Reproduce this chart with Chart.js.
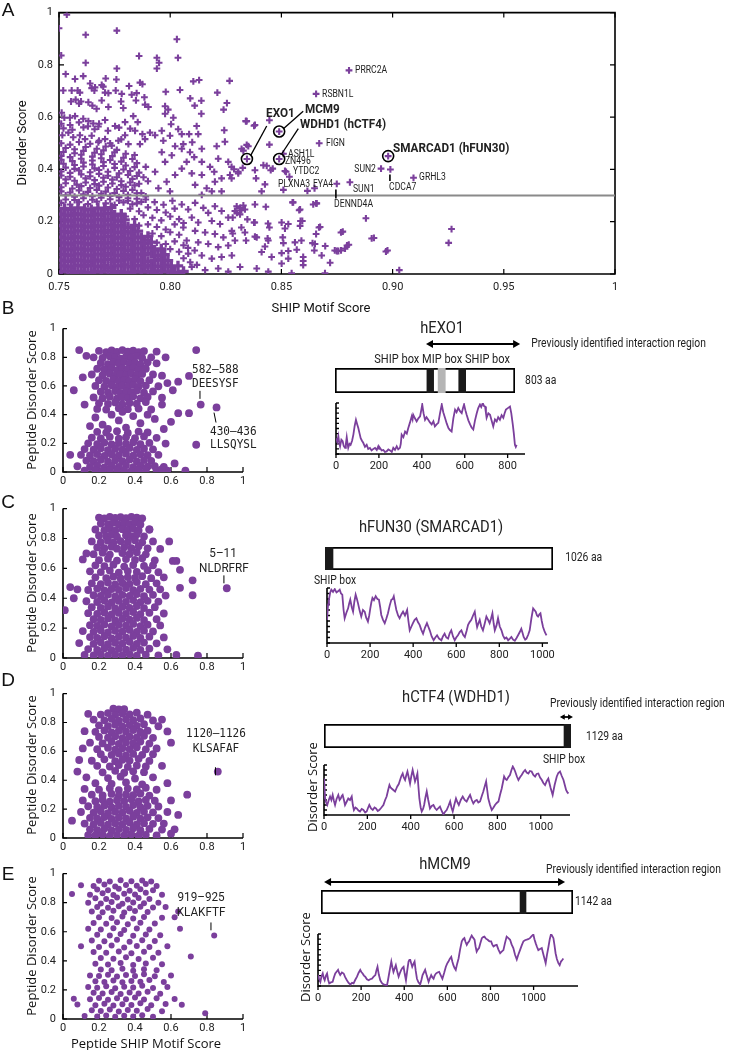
<!DOCTYPE html>
<html>
<head>
<meta charset="utf-8">
<script src="https://cdn.jsdelivr.net/npm/chart.js@4.4.0/dist/chart.umd.min.js"></script>
<style>
body { margin:0; background:#fff; }
#fig { position:relative; width:735px; height:1050px; overflow:hidden; background:#fff;
  font-family:Roboto,'Open Sans',sans-serif; color:#111; }
#fig canvas { position:absolute; }
.t { position:absolute; white-space:nowrap; line-height:1; }
.c { transform:translate(-50%,-50%); }
.rot { transform:translate(-50%,-50%) rotate(-90deg); }
.letter { font-family:'Liberation Sans',Arial,sans-serif; font-size:19px; }
.ylab { font-family:'Open Sans',sans-serif; font-size:13px; }
</style>
</head>
<body>
<div id="fig">
  <canvas id="scanA" width="640" height="320" style="left:0;top:0"></canvas>

  <canvas id="pepB" width="260" height="175" style="left:0;top:315px"></canvas>
  <canvas id="barB" width="435" height="90" style="left:300px;top:315px"></canvas>
  <canvas id="profB" width="240" height="85" style="left:300px;top:390px"></canvas>

  <canvas id="pepC" width="260" height="180" style="left:0;top:495px"></canvas>
  <canvas id="barC" width="435" height="80" style="left:300px;top:510px"></canvas>
  <canvas id="profC" width="275" height="90" style="left:290px;top:575px"></canvas>

  <canvas id="pepD" width="260" height="175" style="left:0;top:680px"></canvas>
  <canvas id="barD" width="435" height="80" style="left:300px;top:690px"></canvas>
  <canvas id="profD" width="290" height="90" style="left:290px;top:750px"></canvas>

  <canvas id="pepE" width="260" height="175" style="left:0;top:860px"></canvas>
  <canvas id="barE" width="435" height="65" style="left:300px;top:855px"></canvas>
  <canvas id="profE" width="300" height="90" style="left:285px;top:920px"></canvas>

  <div class="t c letter" style="left:8px;top:9px">A</div>
  <div class="t c letter" style="left:8px;top:307px">B</div>
  <div class="t c letter" style="left:8px;top:501px">C</div>
  <div class="t c letter" style="left:8px;top:679px">D</div>
  <div class="t c letter" style="left:8px;top:873px">E</div>

  <div class="t c" style="left:321px;top:307px;font-size:13px">SHIP Motif Score</div>
  <div class="t rot" style="left:21px;top:143px;font-size:13px">Disorder Score</div>

  <div class="t rot ylab" style="left:31px;top:400px">Peptide Disorder Score</div>
  <div class="t rot ylab" style="left:31px;top:583px">Peptide Disorder Score</div>
  <div class="t rot ylab" style="left:31px;top:765px">Peptide Disorder Score</div>
  <div class="t rot ylab" style="left:31px;top:946px">Peptide Disorder Score</div>
  <div class="t c ylab" style="left:146px;top:1043px">Peptide SHIP Motif Score</div>

  <div class="t rot ylab" style="left:312px;top:787px">Disorder Score</div>
  <div class="t rot ylab" style="left:305px;top:957px">Disorder Score</div>
</div>

<script>
var purple = '#7b3f9c';
var sans = "Roboto,'Open Sans',sans-serif";
var mono = "'DejaVu Sans Mono',monospace";

// ---- panel A : SHIP motif score vs disorder score (one cross per protein) ----
var coreA = [
  [.751,.008],[.754,.012],[.757,.006],[.760,.010],[.763,.005],[.766,.011],[.769,.007],[.772,.012],[.775,.006],[.778,.009],[.781,.005],[.784,.011],[.787,.007],[.790,.010],[.793,.006],[.796,.012],[.799,.008],[.802,.005],[.806,.010],
  [.7525,.031],[.7555,.027],[.7585,.033],[.7615,.029],[.7645,.034],[.7675,.028],[.7705,.032],[.7735,.026],[.7765,.031],[.7795,.035],[.7825,.028],[.7855,.032],[.7885,.027],[.7915,.033],[.7945,.029],[.7975,.034],[.8005,.028],[.8035,.031],
  [.751,.053],[.754,.049],[.757,.055],[.760,.051],[.763,.048],[.766,.054],[.769,.050],[.772,.056],[.775,.049],[.778,.053],[.781,.057],[.784,.050],[.787,.054],[.790,.048],[.793,.052],[.796,.056],[.799,.051],
  [.7525,.075],[.7555,.071],[.7585,.077],[.7615,.073],[.7645,.070],[.7675,.076],[.7705,.072],[.7735,.078],[.7765,.071],[.7795,.075],[.7825,.069],[.7855,.076],[.7885,.073],[.7915,.078],[.7945,.070],[.7975,.074],
  [.751,.097],[.754,.093],[.757,.099],[.760,.095],[.763,.092],[.766,.098],[.769,.094],[.772,.100],[.775,.093],[.778,.097],[.781,.091],[.784,.098],[.787,.095],[.790,.100],[.793,.092],[.796,.096],
  [.7525,.119],[.7555,.115],[.7585,.121],[.7615,.117],[.7645,.114],[.7675,.120],[.7705,.116],[.7735,.122],[.7765,.115],[.7795,.119],[.7825,.113],[.7855,.120],[.7885,.117],[.7915,.122],
  [.751,.141],[.754,.137],[.757,.143],[.760,.139],[.763,.136],[.766,.142],[.769,.138],[.772,.144],[.775,.137],[.778,.141],[.781,.135],[.784,.142],[.787,.139],[.790,.144],
  [.7525,.163],[.7555,.159],[.7585,.165],[.7615,.161],[.7645,.158],[.7675,.164],[.7705,.160],[.7735,.166],[.7765,.159],[.7795,.163],[.7825,.157],[.7855,.164],
  [.751,.185],[.754,.181],[.757,.187],[.760,.183],[.763,.180],[.766,.186],[.769,.182],[.772,.188],[.775,.181],[.778,.185],[.781,.179],[.784,.186],
  [.7525,.207],[.7555,.203],[.7585,.209],[.7615,.205],[.7645,.202],[.7675,.208],[.7705,.204],[.7735,.210],[.7765,.203],[.7795,.207],
  [.751,.229],[.754,.225],[.757,.231],[.760,.227],[.763,.224],[.766,.230],[.769,.226],[.772,.232],[.775,.225],[.778,.229],
  [.7525,.251],[.7555,.247],[.7585,.253],[.7615,.249],[.7645,.246],[.7675,.252],[.7705,.248],[.7735,.254]
];
var lowerA = [
  [.781,.28],[.785,.27],[.789,.285],[.793,.275],[.797,.265],[.801,.28],
  [.782,.25],[.786,.24],[.790,.255],[.794,.245],[.798,.235],[.802,.25],
  [.780,.22],[.784,.21],[.788,.225],[.792,.215],[.796,.205],[.800,.22],[.804,.21],
  [.786,.185],[.790,.19],[.794,.18],[.798,.17],[.802,.19],[.806,.195],
  [.792,.155],[.796,.145],[.800,.16],[.804,.15],[.790,.13],[.794,.12],[.798,.115],[.802,.125],[.806,.11],
  [.800,.095],[.804,.085],[.808,.10],[.811,.09],[.806,.06],[.809,.045],[.812,.035],
  [.8052,.266],[.8112,.272],[.8081,.247],[.8149,.253],[.8171,.234],[.8201,.259],[.8231,.241],[.8261,.216],[.8097,.216],[.8126,.197],
  [.8187,.203],[.8224,.191],[.8059,.178],[.8112,.165],[.8157,.159],[.8201,.153],[.8239,.140],[.8277,.165],[.8074,.128],[.8126,.121],
  [.8171,.115],[.8216,.103],[.8261,.109],[.8291,.128],[.8081,.078],[.8142,.071],[.8187,.059],[.8231,.065],[.8277,.071],[.8097,.027],
  [.8157,.015],[.8216,.021],[.8261,.009],[.8314,.027],[.8052,.003]
];
var rightA = [
  [.8381,.266],[.843,.257],[.855,.274],[.858,.244],[.8643,.266],[.8659,.27],[.888,.213],[.832,.244],[.8336,.247],[.830,.234],
  [.838,.197],[.844,.193],[.8594,.203],[.8674,.180],[.832,.178],[.8347,.209],[.8906,.136],[.897,.086],[.903,.015],[.8516,.174],
  [.8389,.140],[.8441,.128],[.8506,.140],[.8561,.121],[.859,.128],[.8651,.115],[.8648,.090],[.874,.090],[.8768,.090],[.8795,.109],
  [.8411,.084],[.8456,.065],[.8501,.080],[.8598,.065],[.8598,.050],[.8598,.034],[.8531,.059],[.8681,.071],[.8501,.040],[.8389,.021],
  [.8441,.009],[.8696,.003],[.8546,.003],
  [.9265,.172],[.9252,.119],[.8977,.090],[.8916,.138],[.8776,.162],[.8803,.112],[.8756,.088],[.8669,.178],[.8697,.107],
  [.8299,.259],[.8314,.253],[.8329,.262],[.8291,.241],[.8314,.228],[.8281,.216],[.8553,.274],[.8584,.247],[.8656,.270],
  [.8377,.197],[.8446,.178],[.8501,.197],[.8531,.191],[.8586,.203],[.8584,.184],[.8768,.159],
  [.8281,.155],[.8336,.159],[.8341,.128],[.8381,.143],[.8438,.136],[.8426,.105],[.8509,.118],[.8531,.088],[.8569,.093],[.8640,.118],
  [.8656,.153],[.8719,.043],[.8749,.088],[.8786,.097]
];
var middleA = [
  [.751,.272],[.755,.266],[.759,.275],[.763,.268],[.767,.277],[.771,.27],[.775,.264],[.779,.274],[.783,.267],[.787,.276],
  [.753,.301],[.757,.296],[.761,.305],[.765,.298],[.769,.307],[.773,.299],[.777,.294],[.781,.303],[.785,.309],[.789,.297],
  [.751,.332],[.756,.327],[.760,.336],[.764,.329],[.768,.338],[.772,.331],[.776,.325],[.780,.334],[.784,.339],
  [.753,.362],[.757,.357],[.762,.366],[.766,.359],[.770,.368],[.774,.361],[.778,.355],[.783,.364],[.788,.37],
  [.751,.392],[.755,.387],[.759,.396],[.764,.389],[.768,.398],[.772,.391],[.777,.385],[.782,.394],[.786,.388],
  [.752,.422],[.757,.417],[.761,.426],[.765,.419],[.770,.428],[.775,.421],[.780,.415],[.785,.424],
  [.751,.452],[.755,.447],[.760,.456],[.765,.449],[.769,.458],[.774,.451],[.779,.445],[.784,.455],
  [.753,.482],[.757,.477],[.762,.486],[.767,.479],[.771,.488],[.776,.475],
  [.752,.557],[.756,.552],[.761,.561],[.766,.554],[.772,.548],[.777,.56],[.782,.556],
  [.753,.285],[.757,.283],[.761,.29],[.765,.284],[.769,.292],[.773,.286],[.777,.281],[.781,.29],[.785,.288],
  [.751,.316],[.755,.312],[.759,.32],[.763,.314],[.767,.322],[.771,.315],[.775,.31],[.779,.318],[.783,.322],[.787,.31],
  [.753,.347],[.758,.342],[.762,.35],[.766,.344],[.770,.353],[.774,.346],[.778,.34],[.782,.35],[.786,.345],[.790,.355],
  [.751,.377],[.755,.372],[.760,.381],[.764,.374],[.768,.383],[.772,.376],[.776,.37],[.781,.379],[.785,.375],
  [.753,.407],[.757,.402],[.761,.411],[.766,.404],[.770,.413],[.775,.406],[.779,.40],[.784,.409],[.789,.41],
  [.751,.437],[.756,.432],[.760,.441],[.765,.434],[.769,.443],[.773,.436],[.778,.43],[.783,.44],
  [.752,.467],[.757,.462],[.761,.471],[.766,.464],[.770,.473],[.775,.466],[.780,.46],
  [.751,.50],[.755,.495],[.759,.505],[.764,.498],[.768,.51],[.773,.50],[.778,.515],
  [.751,.575],[.755,.57],[.759,.58],[.763,.565],[.768,.575],
  [.8052,.479],[.8089,.466],[.8108,.447],[.8142,.429],[.8074,.429],[.8052,.403],[.8097,.385],[.8142,.379],[.8179,.410],[.8198,.391],
  [.8201,.353],[.8231,.366],[.8112,.341],[.8164,.328],[.8187,.316],[.8231,.316],[.8142,.303],[.8261,.429],[.8306,.391],[.8269,.379],
  [.8216,.441],[.8007,.454],[.7977,.429],[.8022,.379],[.7984,.353],[.7947,.328],[.7999,.316],[.7932,.391],[.7962,.466],
  [.8341,.585],[.8381,.570],[.8446,.588],[.8329,.472],[.8351,.489],[.8446,.495],[.8276,.410],[.8287,.401],[.8306,.385],[.8326,.406],
  [.8276,.366],[.8381,.397],[.8419,.416],[.8434,.414],[.8452,.397],[.8461,.403],[.8386,.366],[.8426,.343],[.8411,.316],[.8516,.394],
  [.8536,.372],[.8509,.322],[.8617,.318],[.8649,.328],
  [.8804,.779],[.8656,.689],[.867,.50],[.8509,.46],[.8521,.391],[.8749,.345],[.8808,.351],[.8948,.403],[.899,.40],[.9094,.368],
  [.8345,.44],[.849,.545],[.849,.44],[.898,.451]
];
var upperA = [
  [.7535,.992],[.750,.94],[.762,.915],[.776,.931],[.803,.898],[.751,.836],[.762,.808],[.786,.834],[.794,.827],[.795,.808],
  [.794,.786],[.8035,.827],[.776,.786],[.753,.765],
  [.7572,.746],[.7609,.757],[.771,.748],[.7758,.744],[.7815,.719],[.7875,.726],[.798,.697],[.8044,.704],[.8104,.737],[.813,.742],
  [.8267,.739],[.8212,.694],[.809,.672],[.814,.663],[.8255,.654],[.811,.644],[.824,.629],[.814,.613],[.834,.585],[.8377,.567],
  [.7557,.702],[.7584,.702],[.7594,.694],[.7647,.711],[.7659,.702],[.7699,.717],[.7707,.694],[.7722,.692],[.7755,.702],[.7782,.689],
  [.7827,.686],[.7849,.692],[.7884,.676],[.7846,.664],
  [.7554,.660],[.7575,.667],[.7599,.660],[.759,.652],[.7632,.657],[.765,.644],[.7669,.632],[.7692,.664],[.7722,.639],[.7779,.660],
  [.7789,.635],[.7834,.604],[.7854,.581],[.7887,.648],[.7902,.639],[.7977,.642],[.7991,.629],[.8014,.598],[.7977,.613],[.7512,.617],
  [.7524,.598],[.7549,.598],[.7572,.604],[.7609,.594],[.7632,.585],[.7654,.576],[.7677,.564],[.7707,.589],[.7752,.566],[.7797,.581],
  [.7842,.548],[.7875,.535],[.7909,.541],[.7962,.548],[.8004,.573],[.8036,.554],[.8052,.535],[.8085,.535],[.8119,.566],[.8126,.535],
  [.8243,.550],[.8246,.506],[.8344,.585],
  [.7515,.531],[.7542,.541],[.7564,.523],[.7594,.531],[.7617,.516],[.7647,.529],[.7677,.504],[.7707,.516],[.7737,.491],[.7767,.510],
  [.7797,.531],[.7812,.497],[.7864,.497],[.7887,.516],[.7932,.531],[.7969,.510],[.7999,.529],[.8022,.489],[.8059,.497],[.8099,.504],
  [.8142,.479],[.8209,.489],[.8321,.479],[.8344,.494],
  [.7519,.702],[.764,.729],[.7662,.714],[.7864,.732],[.7692,.723]
];
// circled proteins: EXO1, MCM9, WDHD1, SMARCAD1
var circledA = [[.8345,.44],[.849,.545],[.849,.44],[.898,.451]];
var thresholdA = 0.3;
var motifTicksA = [0.75, 0.8, 0.85, 0.9, 0.95, 1];

// ---- panels B-E : peptides of one protein (motif score, disorder score) ----
var exo1Peptides = [
  [.20,.845],[.24,.835],[.27,.848],[.30,.838],[.33,.85],[.36,.84],[.39,.846],[.42,.836],[.45,.843],
  [.17,.80],[.22,.795],[.26,.808],[.29,.80],[.32,.79],[.35,.805],[.38,.798],[.41,.81],[.44,.795],[.49,.80],
  [.21,.76],[.25,.752],[.28,.765],[.31,.758],[.34,.768],[.37,.755],[.40,.762],[.43,.75],[.47,.765],[.52,.758],
  [.19,.72],[.23,.715],[.27,.725],[.30,.71],[.33,.722],[.36,.716],[.39,.728],[.42,.712],[.46,.72],
  [.16,.68],[.22,.675],[.26,.686],[.29,.672],[.32,.682],[.35,.676],[.38,.688],[.41,.674],[.44,.684],[.50,.68],[.55,.672],
  [.20,.64],[.24,.635],[.28,.645],[.31,.632],[.34,.642],[.37,.636],[.40,.648],[.43,.634],[.48,.64],
  [.18,.60],[.23,.595],[.27,.605],[.30,.592],[.33,.602],[.36,.596],[.39,.608],[.42,.594],[.46,.603],[.53,.598],
  [.21,.56],[.25,.555],[.29,.565],[.32,.552],[.35,.562],[.38,.556],[.41,.568],[.45,.554],[.50,.562],
  [.17,.52],[.22,.515],[.26,.525],[.30,.512],[.33,.522],[.36,.516],[.39,.528],[.43,.514],[.47,.523],[.55,.518],
  [.20,.48],[.25,.475],[.29,.485],[.33,.472],[.37,.482],[.41,.476],[.46,.488],
  [.19,.44],[.24,.435],[.31,.445],[.36,.438],[.42,.442],[.49,.436],
  [.09,.85],[.13,.81],[.06,.57],[.11,.66],[.58,.62],[.57,.80],[.52,.84],[.61,.57],[.64,.63],[.70,.67],
  [.74,.85],[.12,.47],[.55,.47],[.64,.41],[.70,.41],[.60,.35],[.765,.47],[.853,.45],
  [.18,.38],[.22,.33],[.27,.40],[.31,.36],[.35,.31],[.39,.39],[.43,.34],[.47,.40],[.51,.37],[.25,.30],[.15,.32],[.56,.30],[.33,.42],
  [.19,.28],[.24,.275],[.30,.285],[.36,.272],[.42,.282],[.47,.276],
  [.16,.24],[.21,.235],[.26,.245],[.31,.232],[.35,.242],[.40,.236],[.45,.248],[.52,.238],
  [.14,.20],[.19,.195],[.23,.205],[.27,.192],[.31,.202],[.35,.196],[.39,.208],[.43,.194],[.48,.203],[.57,.198],
  [.12,.16],[.17,.155],[.21,.165],[.25,.152],[.29,.162],[.33,.156],[.37,.168],[.41,.154],[.45,.163],[.50,.158],
  [.10,.12],[.15,.115],[.19,.125],[.23,.112],[.27,.122],[.31,.116],[.35,.128],[.39,.114],[.43,.123],[.47,.118],[.53,.12],
  [.13,.08],[.17,.075],[.21,.085],[.25,.072],[.29,.082],[.33,.076],[.37,.088],[.41,.074],[.45,.083],[.49,.078],
  [.08,.04],[.15,.035],[.19,.045],[.23,.032],[.27,.042],[.31,.036],[.35,.048],[.39,.034],[.43,.043],[.47,.038],[.51,.04],[.56,.035],
  [.12,.01],[.18,.012],[.22,.008],[.26,.014],[.30,.01],[.34,.012],[.38,.008],[.42,.013],[.46,.01],[.52,.012],[.58,.01],
  [.04,.12],[.74,.19],[.55,.02],[.62,.06],[.68,.01]
];
var fun30Peptides = [
  [.20,.94],[.23,.935],[.26,.945],[.29,.938],[.32,.942],[.35,.936],[.38,.945],[.41,.94],[.44,.935],
  [.21,.90],[.25,.895],[.28,.905],[.31,.892],[.34,.902],[.37,.896],[.40,.908],[.43,.894],
  [.18,.86],[.23,.855],[.26,.865],[.29,.852],[.33,.862],[.36,.856],[.39,.868],[.42,.854],[.48,.86],
  [.20,.82],[.24,.815],[.27,.825],[.30,.812],[.35,.822],[.38,.816],[.41,.828],[.45,.814],
  [.16,.78],[.21,.775],[.25,.785],[.28,.772],[.32,.782],[.36,.776],[.40,.788],[.44,.774],[.50,.78],[.59,.78],
  [.19,.74],[.23,.735],[.27,.745],[.30,.732],[.34,.742],[.38,.736],[.42,.748],[.47,.734],[.54,.73],
  [.13,.70],[.17,.695],[.22,.705],[.26,.692],[.33,.702],[.37,.696],[.41,.708],[.46,.694],
  [.11,.66],[.20,.655],[.25,.665],[.30,.652],[.35,.662],[.40,.656],[.44,.668],[.51,.654],[.61,.65],
  [.18,.62],[.23,.615],[.28,.625],[.34,.612],[.39,.622],[.45,.616],[.50,.62],
  [.15,.58],[.21,.575],[.26,.585],[.31,.572],[.36,.582],[.41,.576],[.47,.588],[.53,.574],
  [.18,.54],[.24,.535],[.28,.545],[.32,.532],[.36,.542],[.40,.536],[.44,.548],[.49,.534],[.56,.54],
  [.16,.50],[.21,.495],[.25,.505],[.29,.492],[.33,.502],[.37,.496],[.41,.508],[.46,.494],[.52,.50],
  [.08,.46],[.14,.455],[.19,.465],[.23,.452],[.27,.462],[.31,.456],[.35,.468],[.39,.454],[.43,.463],[.48,.458],[.54,.46],[.65,.47],
  [.17,.42],[.21,.415],[.25,.425],[.29,.412],[.33,.422],[.37,.416],[.41,.428],[.45,.414],[.50,.423],[.57,.418],[.72,.42],
  [.13,.38],[.19,.375],[.23,.385],[.27,.372],[.31,.382],[.35,.376],[.39,.388],[.43,.374],[.47,.383],[.53,.378],
  [.16,.34],[.21,.335],[.25,.345],[.29,.332],[.33,.342],[.37,.336],[.41,.348],[.45,.334],[.51,.34],
  [.01,.32],[.14,.30],[.19,.295],[.23,.305],[.27,.292],[.31,.302],[.35,.296],[.39,.308],[.43,.294],[.48,.303],[.56,.298],
  [.17,.26],[.21,.255],[.25,.265],[.29,.252],[.33,.262],[.37,.256],[.41,.268],[.45,.254],[.52,.26],
  [.15,.22],[.19,.215],[.23,.225],[.27,.212],[.31,.222],[.35,.216],[.39,.228],[.43,.214],[.47,.223],[.54,.218],
  [.11,.18],[.17,.175],[.21,.185],[.25,.172],[.29,.182],[.33,.176],[.37,.188],[.41,.174],[.45,.183],[.50,.178],
  [.15,.14],[.19,.135],[.23,.145],[.27,.132],[.31,.142],[.35,.136],[.39,.148],[.43,.134],[.48,.143],[.56,.138],
  [.09,.10],[.17,.095],[.21,.105],[.25,.092],[.29,.102],[.33,.096],[.37,.108],[.41,.094],[.45,.103],[.52,.098],
  [.14,.06],[.19,.055],[.23,.065],[.27,.052],[.31,.062],[.35,.056],[.39,.068],[.43,.054],[.48,.063],[.58,.058],
  [.12,.02],[.17,.018],[.21,.024],[.25,.015],[.29,.022],[.33,.018],[.37,.025],[.41,.016],[.46,.022],[.53,.018],[.63,.02],[.75,.015],
  [.91,.467],[.72,.52],[.04,.475],[.06,.40],[.48,.86],[.63,.65],[.65,.59]
];
var ctf4Peptides = [
  [.28,.895],[.31,.89],[.34,.893],
  [.14,.86],[.21,.855],[.25,.865],[.29,.852],[.33,.862],[.37,.856],[.41,.868],[.47,.854],
  [.17,.82],[.23,.815],[.27,.825],[.31,.812],[.35,.822],[.39,.816],[.43,.828],[.50,.814],[.55,.82],
  [.20,.78],[.25,.775],[.29,.785],[.33,.772],[.37,.782],[.41,.776],[.45,.788],[.53,.774],
  [.12,.74],[.18,.735],[.23,.745],[.27,.732],[.31,.742],[.35,.736],[.39,.748],[.43,.734],[.47,.743],[.58,.738],
  [.20,.70],[.25,.695],[.29,.705],[.33,.692],[.37,.702],[.41,.696],[.45,.708],[.50,.694],
  [.15,.66],[.22,.655],[.27,.665],[.31,.652],[.35,.662],[.39,.656],[.43,.668],[.48,.654],[.60,.66],
  [.11,.62],[.19,.615],[.25,.625],[.29,.612],[.33,.622],[.37,.616],[.41,.628],[.46,.614],[.52,.62],
  [.21,.58],[.27,.575],[.31,.585],[.35,.572],[.39,.582],[.44,.576],[.50,.58],
  [.09,.54],[.16,.535],[.23,.545],[.29,.532],[.33,.542],[.37,.536],[.42,.548],[.48,.534],
  [.19,.50],[.26,.495],[.31,.505],[.36,.492],[.41,.502],[.46,.496],[.55,.50],
  [.08,.46],[.22,.455],[.29,.465],[.34,.452],[.39,.462],[.45,.456],
  [.13,.42],[.25,.415],[.32,.425],[.40,.412],[.50,.42],
  [.18,.38],[.27,.375],[.35,.385],[.44,.372],[.58,.38],
  [.12,.34],[.20,.335],[.26,.345],[.31,.332],[.36,.342],[.41,.336],[.46,.348],[.52,.334],
  [.16,.30],[.22,.295],[.27,.305],[.31,.292],[.35,.302],[.39,.296],[.43,.308],[.48,.294],[.69,.30],
  [.11,.26],[.18,.255],[.22,.265],[.26,.252],[.30,.262],[.34,.256],[.38,.268],[.42,.254],[.46,.263],[.51,.258],[.60,.26],
  [.14,.22],[.19,.215],[.23,.225],[.27,.212],[.31,.222],[.35,.216],[.39,.228],[.43,.214],[.47,.223],[.53,.218],
  [.10,.18],[.17,.175],[.21,.185],[.25,.172],[.29,.182],[.33,.176],[.37,.188],[.41,.174],[.45,.183],[.50,.178],[.58,.18],[.64,.16],
  [.15,.14],[.19,.135],[.23,.145],[.27,.132],[.31,.142],[.35,.136],[.39,.148],[.43,.134],[.47,.143],[.53,.138],
  [.12,.10],[.17,.095],[.21,.105],[.25,.092],[.29,.102],[.33,.096],[.37,.108],[.41,.094],[.45,.103],[.50,.098],[.56,.10],
  [.15,.06],[.19,.055],[.23,.065],[.27,.052],[.31,.062],[.35,.056],[.39,.068],[.43,.054],[.48,.063],[.55,.058],[.62,.06],
  [.14,.02],[.18,.018],[.22,.024],[.26,.015],[.30,.022],[.34,.018],[.38,.025],[.42,.016],[.46,.022],[.52,.018],[.60,.03],
  [.86,.46],[.05,.12]
];
var mcm9Peptides = [
  [.20,.95],[.26,.945],[.32,.955],[.38,.948],[.44,.952],[.49,.946],
  [.10,.92],[.17,.915],[.23,.925],[.29,.912],[.35,.922],[.41,.916],[.46,.928],[.52,.914],
  [.19,.89],[.25,.885],[.31,.895],[.37,.882],[.43,.892],[.50,.886],
  [.05,.86],[.15,.855],[.22,.865],[.28,.852],[.34,.862],[.40,.856],[.46,.868],[.55,.854],
  [.18,.83],[.24,.825],[.30,.835],[.36,.822],[.42,.832],[.48,.826],
  [.14,.80],[.21,.795],[.27,.805],[.33,.792],[.39,.802],[.45,.796],[.53,.80],
  [.19,.77],[.25,.765],[.31,.775],[.37,.762],[.43,.772],[.50,.766],[.57,.77],
  [.16,.74],[.22,.735],[.28,.745],[.34,.732],[.40,.742],[.47,.736],[.64,.74],
  [.20,.70],[.27,.695],[.33,.705],[.39,.692],[.45,.702],[.55,.696],[.62,.70],
  [.17,.66],[.24,.655],[.30,.665],[.36,.652],[.43,.662],[.51,.656],
  [.14,.62],[.21,.615],[.28,.625],[.34,.612],[.41,.622],[.48,.616],[.65,.62],
  [.19,.58],[.26,.575],[.32,.585],[.39,.572],[.46,.582],[.54,.576],
  [.16,.54],[.23,.535],[.30,.545],[.37,.532],[.44,.542],[.51,.536],
  [.10,.50],[.20,.495],[.27,.505],[.34,.492],[.41,.502],[.48,.496],[.58,.50],
  [.17,.46],[.24,.455],[.31,.465],[.38,.452],[.45,.462],[.53,.456],
  [.21,.42],[.28,.415],[.35,.425],[.42,.412],[.50,.422],[.71,.43],
  [.18,.38],[.25,.375],[.32,.385],[.39,.372],[.46,.382],[.55,.376],
  [.21,.34],[.27,.335],[.33,.345],[.39,.332],[.45,.342],[.52,.336],
  [.15,.30],[.20,.295],[.25,.305],[.30,.292],[.35,.302],[.40,.296],[.45,.308],[.51,.294],[.60,.30],
  [.18,.26],[.23,.255],[.28,.265],[.33,.252],[.38,.262],[.43,.256],[.48,.268],[.56,.254],
  [.14,.22],[.19,.215],[.24,.225],[.29,.212],[.34,.222],[.39,.216],[.44,.228],[.50,.214],[.58,.22],
  [.17,.18],[.22,.175],[.27,.185],[.32,.172],[.37,.182],[.42,.176],[.47,.188],[.54,.174],
  [.06,.14],[.15,.135],[.20,.145],[.25,.132],[.30,.142],[.35,.136],[.40,.148],[.45,.134],[.52,.143],[.62,.138],
  [.08,.10],[.18,.095],[.23,.105],[.28,.092],[.33,.102],[.38,.096],[.43,.108],[.49,.094],[.57,.103],[.66,.098],
  [.16,.06],[.21,.055],[.26,.065],[.31,.052],[.36,.062],[.41,.056],[.47,.068],[.55,.054],
  [.12,.02],[.19,.018],[.24,.024],[.29,.015],[.34,.022],[.39,.018],[.44,.025],[.50,.016],[.79,.04],
  [.84,.575]
];

// ---- disorder profiles along each protein: [residue, disorder score] ----
var exo1Profile = [
  [0,.31],[6,.24],[11,.35],[15,.22],[19,.15],[25,.28],[31,.25],[36,.16],[42,.12],[46,.2],[50,.33],[54,.2],[57,.12],[63,.2],[68,.18],
  [75,.26],[81,.38],[87,.55],[93,.67],[99,.58],[104,.51],[110,.4],[115,.31],[121,.26],[127,.22],[135,.14],[143,.18],[150,.1],[158,.12],
  [166,.07],[174,.1],[182,.12],[190,.08],[197,.15],[201,.1],[205,.12],[213,.07],[221,.08],[228,.04],[236,.05],[244,.09],[252,.07],
  [260,.04],[267,.12],[275,.08],[283,.15],[290,.09],[298,.12],[302,.2],[306,.38],[314,.33],[322,.44],[330,.4],[337,.51],[345,.62],
  [353,.74],[357,.68],[360,.77],[368,.7],[376,.64],[384,.7],[392,.74],[397,.85],[402,.97],[408,.8],[415,.67],[422,.72],[430,.67],
  [438,.62],[446,.58],[454,.64],[461,.54],[469,.58],[477,.61],[485,.8],[493,.97],[500,.82],[508,.71],[516,.6],[524,.51],[531,.47],
  [539,.44],[547,.7],[555,.87],[562,.82],[570,.90],[578,.84],[586,.80],[592,.9],[597,.97],[603,.86],[609,.77],[617,.66],[625,.58],
  [632,.52],[640,.48],[648,.66],[656,.80],[663,.9],[671,.97],[677,.92],[684,1.0],[690,.94],[695,.93],[699,.8],[702,.71],[710,.8],
  [718,.77],[725,.66],[733,.54],[741,.68],[749,.64],[756,.72],[764,.67],[772,.76],[780,.71],[786,.8],[792,.87],[801,.9],[811,.93],
  [817,.8],[824,.58],[829,.4],[834,.18],[838,.14],[842,.18]
];
var fun30Profile = [
  [0,.42],[5,.7],[9,.79],[15,.92],[20,.97],[28,.93],[36,.98],[44,.92],[51,.94],[59,.97],[65,.9],[71,.88],[77,.6],[82,.45],[90,.55],
  [98,.63],[103,.72],[108,.79],[115,.65],[121,.57],[127,.75],[133,.88],[139,.8],[144,.72],[152,.58],[159,.48],[167,.6],[175,.57],
  [182,.46],[190,.39],[196,.5],[201,.63],[206,.74],[211,.82],[218,.78],[226,.85],[234,.8],[241,.79],[247,.65],[252,.51],[260,.42],
  [268,.36],[276,.45],[283,.54],[291,.68],[299,.79],[305,.8],[310,.85],[316,.72],[322,.60],[330,.5],[337,.45],[345,.52],[353,.57],
  [362,.5],[372,.60],[378,.4],[384,.23],[392,.3],[399,.36],[407,.42],[415,.45],[422,.38],[430,.33],[438,.24],[446,.17],[455,.28],
  [464,.36],[470,.3],[477,.23],[486,.12],[495,.05],[503,.1],[511,.14],[520,.08],[531,.05],[538,.12],[546,.17],[554,.1],[562,.08],
  [570,.18],[577,.23],[585,.12],[593,.05],[600,.1],[608,.14],[616,.2],[624,.23],[632,.15],[640,.11],[648,.22],[655,.33],[662,.38],
  [670,.42],[678,.5],[686,.57],[692,.4],[697,.29],[703,.36],[709,.42],[716,.3],[724,.23],[732,.35],[740,.48],[748,.42],[755,.36],
  [762,.45],[768,.54],[774,.35],[779,.23],[787,.32],[794,.45],[802,.3],[810,.23],[817,.14],[825,.08],[833,.1],[841,.05],[849,.08],
  [856,.11],[864,.06],[872,.04],[880,.09],[887,.14],[895,.2],[902,.26],[908,.18],[913,.11],[920,.06],[926,.08],[934,.15],[941,.23],
  [949,.45],[957,.63],[963,.6],[969,.57],[975,.5],[980,.48],[986,.52],[991,.54],[997,.4],[1003,.29],[1011,.2],[1019,.14]
];
var ctf4Profile = [
  [0,.73],[5,.33],[10,.25],[15,.20],[22,.3],[28,.37],[34,.3],[40,.40],[46,.28],[51,.20],[58,.32],[66,.40],[72,.3],[77,.33],[82,.38],
  [86,.40],[92,.3],[97,.20],[105,.27],[112,.33],[120,.3],[128,.37],[133,.2],[138,.10],[145,.15],[151,.13],[159,.09],[166,.07],
  [174,.12],[182,.10],[190,.05],[197,.07],[203,.14],[209,.20],[217,.13],[225,.10],[233,.15],[240,.13],[248,.08],[255,.10],[265,.15],
  [274,.20],[282,.3],[289,.37],[296,.5],[302,.60],[307,.55],[312,.53],[320,.5],[328,.47],[333,.52],[338,.57],[345,.62],[351,.70],
  [357,.78],[363,.83],[368,.75],[374,.70],[380,.8],[385,.87],[391,.75],[397,.63],[403,.78],[409,.90],[415,.78],[420,.67],[426,.75],
  [431,.83],[435,.6],[440,.33],[446,.15],[451,.07],[457,.12],[462,.20],[468,.35],[474,.47],[481,.3],[489,.13],[497,.18],[505,.20],
  [512,.14],[520,.10],[528,.14],[535,.17],[543,.08],[551,.01],[558,.06],[566,.10],[574,.18],[582,.27],[588,.15],[594,.07],[601,.2],
  [609,.33],[616,.25],[622,.20],[631,.3],[640,.37],[649,.3],[658,.27],[666,.34],[674,.40],[682,.3],[689,.23],[697,.28],[705,.30],
  [712,.25],[720,.27],[728,.38],[735,.47],[742,.58],[748,.67],[753,.5],[758,.33],[766,.2],[774,.10],[782,.15],[789,.20],[797,.24],
  [805,.27],[812,.4],[820,.53],[826,.66],[831,.77],[837,.72],[843,.70],[851,.76],[858,.80],[865,.9],[871,.97],[877,.92],[882,.87],
  [890,.77],[897,.70],[905,.76],[912,.80],[920,.86],[928,.90],[935,.85],[943,.83],[950,.88],[958,.87],[966,.8],[974,.77],[981,.82],
  [989,.83],[997,.75],[1005,.70],[1012,.64],[1020,.60],[1028,.68],[1035,.73],[1045,.55],[1055,.40],[1064,.6],[1074,.77],[1081,.84],
  [1089,.87],[1097,.78],[1105,.70],[1111,.6],[1117,.50],[1123,.45],[1128,.43]
];
var mcm9Profile = [
  [0,.21],[5,.14],[11,.08],[16,.18],[22,.24],[27,.15],[31,.11],[37,.2],[42,.24],[47,.12],[52,.05],[60,.07],[68,.08],[74,.17],[80,.24],
  [87,.28],[93,.31],[98,.25],[103,.21],[111,.26],[119,.24],[126,.17],[134,.11],[142,.06],[150,.03],[158,.06],[165,.05],[173,.12],
  [181,.18],[188,.25],[196,.31],[201,.27],[207,.24],[213,.2],[219,.18],[227,.13],[235,.11],[242,.13],[250,.14],[258,.18],[266,.21],
  [271,.3],[276,.37],[282,.22],[289,.11],[296,.06],[304,.03],[312,.02],[320,.01],[325,.12],[330,.24],[335,.36],[340,.47],[345,.36],
  [350,.27],[355,.33],[361,.40],[367,.29],[374,.18],[380,.25],[386,.31],[392,.35],[397,.37],[402,.24],[408,.11],[414,.3],[420,.47],
  [424,.5],[428,.50],[432,.44],[437,.37],[442,.42],[448,.47],[453,.3],[459,.14],[466,.07],[474,.03],[480,.12],[485,.21],[491,.26],
  [497,.31],[505,.19],[513,.08],[519,.15],[525,.21],[530,.17],[536,.14],[541,.2],[547,.24],[554,.26],[562,.27],[570,.2],[577,.14],
  [585,.25],[593,.37],[599,.43],[605,.47],[611,.52],[618,.56],[623,.47],[628,.40],[633,.35],[639,.31],[645,.42],[652,.53],[659,.7],
  [667,.86],[673,.9],[679,.92],[684,.85],[690,.79],[695,.83],[701,.86],[707,.92],[713,.97],[719,.93],[726,.89],[731,.76],[736,.66],
  [741,.7],[747,.73],[753,.82],[760,.92],[766,.94],[772,.95],[779,.91],[787,.89],[795,.86],[803,.86],[808,.8],[814,.76],[821,.78],
  [829,.79],[837,.7],[845,.63],[852,.66],[860,.69],[867,.82],[875,.95],[883,.92],[891,.89],[898,.8],[906,.73],[914,.6],[922,.51],
  [929,.6],[937,.69],[945,.78],[953,.86],[960,.88],[968,.89],[975,.9],[983,.92],[991,.96],[999,.99],[1004,.9],[1010,.82],[1016,.75],
  [1022,.69],[1030,.71],[1038,.73],[1047,.58],[1056,.44],[1062,.6],[1068,.73],[1075,.9],[1081,1.0],[1087,.96],[1092,.92],[1097,.78],
  [1102,.63],[1108,.52],[1115,.44],[1121,.4],[1127,.47],[1133,.5],[1138,.53]
];
var exo1ProfileTicks = [0, 200, 400, 600, 800];
var longProfileTicks = [0, 200, 400, 600, 800, 1000];

// ---- protein lengths and boxes (residue ranges) ----
var proteinLength = { exo1: 803, fun30: 1026, ctf4: 1129, mcm9: 1142 };
var exo1ShipBoxes = [[410,440],[552,583]];
var exo1MipBox = [460,492];
var fun30ShipBox = [0,36];
var ctf4ShipBox = [1097,1129];
var mcm9ShipBox = [902,929];

Chart.defaults.font.family = sans;
Chart.defaults.font.size = 11;
Chart.defaults.color = '#222';
Chart.defaults.animation = false;
Chart.defaults.plugins.legend.display = false;
Chart.defaults.plugins.tooltip.enabled = false;

function toXY(list) {
  return list.map(function(p) { return { x: p[0], y: p[1] }; });
}
function fixedTicks(values) {
  return function(scale) { scale.ticks = values.map(function(v) { return { value: v }; }); };
}

var framePlugin = {
  id: 'frame',
  beforeDatasetsDraw: function(chart, args, opts) {
    var a = chart.chartArea, ctx = chart.ctx;
    var xs = chart.scales.x, ys = chart.scales.y;
    ctx.save();
    ctx.strokeStyle = '#000';
    ctx.lineWidth = opts.lineWidth || 1.5;
    ctx.beginPath();
    if (opts.box) {
      ctx.rect(a.left, a.top, a.right - a.left, a.bottom - a.top);
    } else {
      ctx.moveTo(a.left, a.top);
      ctx.lineTo(a.left, a.bottom);
      ctx.lineTo(a.right, a.bottom);
    }
    ctx.stroke();
    ctx.lineWidth = opts.tickWidth || 1.2;
    ctx.beginPath();
    ys.ticks.forEach(function(t) {
      var p = ys.getPixelForValue(t.value);
      ctx.moveTo(a.left, p); ctx.lineTo(a.left + opts.yTickLen, p);
      if (opts.box) { ctx.moveTo(a.right, p); ctx.lineTo(a.right - opts.yTickLen, p); }
    });
    xs.ticks.forEach(function(t) {
      var p = xs.getPixelForValue(t.value);
      ctx.moveTo(p, a.bottom); ctx.lineTo(p, a.bottom - opts.xTickLen);
      if (opts.box) { ctx.moveTo(p, a.top); ctx.lineTo(p, a.top + opts.xTickLen); }
    });
    ctx.stroke();
    ctx.restore();
  }
};

// text, leader lines and arrows placed with the chart's own scales
var notesPlugin = {
  id: 'notes',
  afterDatasetsDraw: function(chart, args, opts) {
    var ctx = chart.ctx, a = chart.chartArea;
    var xs = chart.scales.x, ys = chart.scales.y;
    function px(it) { return (it.x !== undefined ? xs.getPixelForValue(it.x) : a.left) + (it.dx || 0); }
    function py(it) { return (it.y !== undefined ? ys.getPixelForValue(it.y) : a.top) + (it.dy || 0); }
    ctx.save();
    (opts.lines || []).forEach(function(l) {
      ctx.strokeStyle = '#000';
      ctx.lineWidth = l.width || 1.3;
      ctx.beginPath();
      ctx.moveTo(px(l.from), py(l.from));
      ctx.lineTo(px(l.to), py(l.to));
      ctx.stroke();
    });
    (opts.arrows || []).forEach(function(ar) {
      var x1 = xs.getPixelForValue(ar.from), x2 = xs.getPixelForValue(ar.to), y = a.top + ar.dy, h = ar.head || 5;
      ctx.strokeStyle = '#000'; ctx.fillStyle = '#000'; ctx.lineWidth = 1.8;
      ctx.beginPath(); ctx.moveTo(x1 + 2, y); ctx.lineTo(x2 - 2, y); ctx.stroke();
      ctx.beginPath(); ctx.moveTo(x1, y); ctx.lineTo(x1 + h * 1.4, y - h * 0.8); ctx.lineTo(x1 + h * 1.4, y + h * 0.8); ctx.closePath(); ctx.fill();
      ctx.beginPath(); ctx.moveTo(x2, y); ctx.lineTo(x2 - h * 1.4, y - h * 0.8); ctx.lineTo(x2 - h * 1.4, y + h * 0.8); ctx.closePath(); ctx.fill();
    });
    (opts.texts || []).forEach(function(t) {
      ctx.save();
      ctx.font = t.font || opts.font;
      ctx.fillStyle = '#222';
      ctx.textAlign = t.align || 'left';
      ctx.textBaseline = 'middle';
      ctx.translate(px(t), py(t));
      ctx.scale(t.stretch || opts.stretch || 1, 1);
      ctx.fillText(t.text, 0, 0);
      ctx.restore();
    });
    ctx.restore();
  }
};

function fmtUnit(v) {
  if (v === 0) return '0';
  if (Math.abs(v - 1) < 1e-9) return '1';
  return v.toFixed(1);
}

// ---- panel A ----
var small = '10px ' + sans;
var bold = 'bold 13px ' + sans;
new Chart(document.getElementById('scanA'), {
  type: 'scatter',
  data: {
    datasets: [
      { data: toXY(circledA), pointStyle: 'circle', pointRadius: 5.5, pointBackgroundColor: 'rgba(0,0,0,0)',
        pointBorderColor: '#000', pointBorderWidth: 1.6 },
      { data: [{ x: 0.75, y: thresholdA }, { x: 1, y: thresholdA }], showLine: true, borderColor: '#8a8a8a',
        borderWidth: 2, pointRadius: 0 },
      { data: toXY([].concat(lowerA, rightA, middleA, upperA)), pointStyle: 'cross', pointRadius: 3.4,
        pointBorderColor: purple, pointBorderWidth: 2.1, pointBackgroundColor: purple },
      { data: toXY(coreA), pointStyle: 'cross', pointRadius: 5.2,
        pointBorderColor: purple, pointBorderWidth: 3.4, pointBackgroundColor: purple }
    ]
  },
  options: {
    responsive: false,
    layout: { padding: { top: 8, right: 25, left: 0, bottom: 0 } },
    scales: {
      x: { type: 'linear', min: 0.75, max: 1, afterFit: function(s) { s.height = 46; },
        afterBuildTicks: fixedTicks(motifTicksA),
        grid: { display: false, drawTicks: false }, border: { display: false },
        ticks: { padding: 7, maxRotation: 0,
          callback: function(v) { return Math.abs(v - 1) < 1e-9 ? '1' : v.toFixed(2); } } },
      y: { min: 0, max: 1, afterFit: function(s) { s.width = 59; },
        grid: { display: false, drawTicks: false }, border: { display: false },
        ticks: { stepSize: 0.2, padding: 6, callback: fmtUnit } }
    },
    plugins: {
      frame: { box: true, yTickLen: 5, xTickLen: 5, lineWidth: 1.6 },
      notes: {
        font: small, stretch: 0.86,
        texts: [
          { x: .8831, y: .778, text: 'PRRC2A' }, { x: .8683, y: .688, text: 'RSBN1L' },
          { x: .870, y: .50, text: 'FIGN' }, { x: .853, y: .459, text: 'ASH1L' },
          { x: .8516, y: .429, text: 'ZN496' }, { x: .8552, y: .391, text: 'YTDC2' },
          { x: .8485, y: .342, text: 'PLXNA3' }, { x: .8642, y: .342, text: 'EYA4' },
          { x: .8822, y: .323, text: 'SUN1' }, { x: .8737, y: .267, text: 'DENND4A' },
          { x: .8925, y: .40, text: 'SUN2', align: 'right' }, { x: .8984, y: .331, text: 'CDCA7' },
          { x: .9119, y: .368, text: 'GRHL3' },
          { x: .8431, y: .613, text: 'EXO1', font: bold, stretch: 0.9 },
          { x: .8606, y: .628, text: 'MCM9', font: bold, stretch: 0.9 },
          { x: .8584, y: .571, text: 'WDHD1 (hCTF4)', font: bold, stretch: 0.9 },
          { x: .9002, y: .481, text: 'SMARCAD1 (hFUN30)', font: bold, stretch: 0.9 }
        ],
        lines: [
          { from: { x: .8362, y: .454 }, to: { x: .8434, y: .566 } },
          { from: { x: .8509, y: .556 }, to: { x: .8598, y: .623 } },
          { from: { x: .8501, y: .459 }, to: { x: .8576, y: .556 } },
          { from: { x: .8745, y: .323 }, to: { x: .8745, y: .289 }, width: 1.6 },
          { from: { x: .8988, y: .381 }, to: { x: .8988, y: .356 }, width: 1.6 }
        ]
      }
    }
  },
  plugins: [framePlugin, notesPlugin]
});

// ---- peptide scatter panels ----
function peptideChart(id, points, radius, top, xAxisHeight, notes) {
  return new Chart(document.getElementById(id), {
    type: 'scatter',
    data: { datasets: [{ data: toXY(points), pointRadius: radius, pointBackgroundColor: purple, pointBorderWidth: 0 }] },
    options: {
      responsive: false,
      layout: { padding: { top: top, right: 17, left: 0, bottom: 0 } },
      scales: {
        x: { type: 'linear', min: 0, max: 1, afterFit: function(s) { s.height = xAxisHeight; },
          grid: { display: false, drawTicks: false }, border: { display: false },
          ticks: { stepSize: 0.2, padding: 3, maxRotation: 0, callback: fmtUnit } },
        y: { min: 0, max: 1, afterFit: function(s) { s.width = 63; },
          grid: { display: false, drawTicks: false }, border: { display: false },
          ticks: { stepSize: 0.2, padding: 7, callback: fmtUnit } }
      },
      plugins: { frame: { box: false, yTickLen: 4, xTickLen: 5, lineWidth: 1.6 }, notes: notes }
    },
    plugins: [framePlugin, notesPlugin]
  });
}

var pepMono = '12px ' + mono;
var pepSans = '13px ' + sans;
peptideChart('pepB', exo1Peptides, 3.9, 12, 18, {
  font: pepMono, stretch: 0.92,
  texts: [
    { x: .717, y: .71, text: '582\u2013588' }, { x: .717, y: .614, text: 'DEESYSF' },
    { x: .817, y: .283, text: '430\u2013436' }, { x: .817, y: .186, text: 'LLSQYSL' }
  ],
  lines: [
    { from: { x: .761, y: .566 }, to: { x: .761, y: .51 }, width: 1 },
    { from: { x: .839, y: .414 }, to: { x: .85, y: .345 }, width: 1 }
  ]
});
peptideChart('pepC', fun30Peptides, 3.9, 13, 17, {
  font: pepSans, stretch: 0.9,
  texts: [
    { x: .889, y: .70, text: '5\u201311', align: 'center' },
    { x: .894, y: .60, text: 'NLDRFRF', align: 'center' }
  ],
  lines: [{ from: { x: .894, y: .553 }, to: { x: .894, y: .50 }, width: 1 }]
});
peptideChart('pepD', ctf4Peptides, 3.9, 13, 17, {
  font: pepMono, stretch: 0.92,
  texts: [
    { x: .85, y: .724, text: '1120\u20131126', align: 'center' },
    { x: .85, y: .614, text: 'KLSAFAF', align: 'center' }
  ],
  lines: [{ from: { x: .847, y: .49 }, to: { x: .847, y: .434 }, width: 1 }]
});
peptideChart('pepE', mcm9Peptides, 3, 13, 16, {
  font: pepSans, stretch: 0.9,
  texts: [
    { x: .767, y: .836, text: '919\u2013925', align: 'center' },
    { x: .767, y: .733, text: 'KLAKFTF', align: 'center' }
  ],
  lines: [{ from: { x: .822, y: .664 }, to: { x: .822, y: .61 }, width: 1 }]
});

// ---- protein diagrams ----
function proteinChart(id, length, boxes, padding, notes) {
  var sets = boxes.map(function(b) {
    return { data: [[b.range[0], b.range[1]]], backgroundColor: b.color, borderWidth: 0, grouped: false,
      barPercentage: 1, categoryPercentage: 1 };
  });
  sets.push({ data: [[0, length]], backgroundColor: '#fff', borderColor: '#000', borderWidth: 2,
    borderSkipped: false, grouped: false, barPercentage: 1, categoryPercentage: 1 });
  return new Chart(document.getElementById(id), {
    type: 'bar',
    data: { labels: ['protein'], datasets: sets },
    options: {
      indexAxis: 'y', responsive: false,
      layout: { padding: padding },
      scales: { x: { display: false, min: 0, max: length }, y: { display: false } },
      plugins: { notes: notes }
    },
    plugins: [notesPlugin]
  });
}

var titleFont = '16px ' + sans;
var regionFont = '12px ' + sans;
var lenFont = '12px ' + sans;

proteinChart('barB', proteinLength.exo1,
  [{ range: exo1ShipBoxes[0], color: '#1a1a1a' }, { range: exo1MipBox, color: '#b5b5b5' },
   { range: exo1ShipBoxes[1], color: '#1a1a1a' }],
  { left: 35, top: 53, right: 220, bottom: 12 },
  { stretch: 0.86,
    texts: [
      { x: 478, dy: -39, text: 'hEXO1', align: 'center', font: titleFont, stretch: 0.92 },
      { x: 875, dy: -24, text: 'Previously identified interaction region', font: regionFont },
      { x: 478, dy: -8, text: 'SHIP box MIP box SHIP box', align: 'center', font: regionFont, stretch: 0.92 },
      { x: 848, dy: 13, text: '803 aa', font: lenFont }
    ],
    arrows: [{ from: 406, to: 826, dy: -24 }] });

proteinChart('barC', proteinLength.fun30, [{ range: fun30ShipBox, color: '#1a1a1a' }],
  { left: 25, top: 37, right: 182, bottom: 20 },
  { stretch: 0.86,
    texts: [
      { x: 477, dy: -19, text: 'hFUN30 (SMARCAD1)', align: 'center', font: titleFont, stretch: 0.92 },
      { x: 1081, dy: 11, text: '1026 aa', font: lenFont },
      { x: 45, dy: 34, text: 'SHIP box', align: 'center', font: regionFont }
    ] });

proteinChart('barD', proteinLength.ctf4, [{ range: ctf4ShipBox, color: '#1a1a1a' }],
  { left: 24, top: 34, right: 164, bottom: 22 },
  { stretch: 0.86,
    texts: [
      { x: 603, dy: -26, text: 'hCTF4 (WDHD1)', align: 'center', font: titleFont, stretch: 0.92 },
      { x: 1033, dy: -20, text: 'Previously identified interaction region', font: regionFont },
      { x: 1197, dy: 13, text: '1129 aa', font: lenFont },
      { x: 1097, dy: 36, text: 'SHIP box', align: 'center', font: regionFont }
    ],
    arrows: [{ from: 1078, to: 1138, dy: -7, head: 3.5 }] });

proteinChart('barE', proteinLength.mcm9, [{ range: mcm9ShipBox, color: '#1a1a1a' }],
  { left: 21, top: 35, right: 162, bottom: 6 },
  { stretch: 0.86,
    texts: [
      { x: 562, dy: -25, text: 'hMCM9', align: 'center', font: titleFont, stretch: 0.92 },
      { x: 1020, dy: -20, text: 'Previously identified interaction region', font: regionFont },
      { x: 1151, dy: 12, text: '1142 aa', font: lenFont }
    ],
    arrows: [{ from: 14, to: 1106, dy: -8 }] });

// ---- disorder profiles ----
function profileChart(id, profile, axisMax, tickValues, yWidth, padding, xAxisHeight) {
  return new Chart(document.getElementById(id), {
    type: 'line',
    data: { datasets: [{ data: toXY(profile), borderColor: purple, borderWidth: 1.8, pointRadius: 0, tension: 0 }] },
    options: {
      responsive: false,
      layout: { padding: padding },
      scales: {
        x: { type: 'linear', min: 0, max: axisMax, afterFit: function(s) { s.height = xAxisHeight; },
          afterBuildTicks: fixedTicks(tickValues),
          grid: { display: false, drawTicks: false }, border: { display: false },
          ticks: { padding: 6, maxRotation: 0, autoSkip: false, callback: function(v) { return String(v); } } },
        y: { min: 0, max: 1, afterFit: function(s) { s.width = yWidth; },
          grid: { display: false, drawTicks: false }, border: { display: false },
          ticks: { stepSize: 0.1, display: false } }
      },
      plugins: { frame: { box: false, yTickLen: 3, xTickLen: -4, lineWidth: 1.6, tickWidth: 1.3 } }
    },
    plugins: [framePlugin]
  });
}

profileChart('profB', exo1Profile, 881, exo1ProfileTicks, 36, { left: 0, top: 13, right: 15, bottom: 0 }, 21);
profileChart('profC', fun30Profile, 1026, longProfileTicks, 37, { left: 0, top: 13, right: 17, bottom: 0 }, 22);
profileChart('profD', ctf4Profile, 1135, longProfileTicks, 34, { left: 0, top: 15, right: 10, bottom: 0 }, 25);
profileChart('profE', mcm9Profile, 1206, longProfileTicks, 33, { left: 0, top: 14, right: 7, bottom: 0 }, 24);
</script>
</body>
</html>
